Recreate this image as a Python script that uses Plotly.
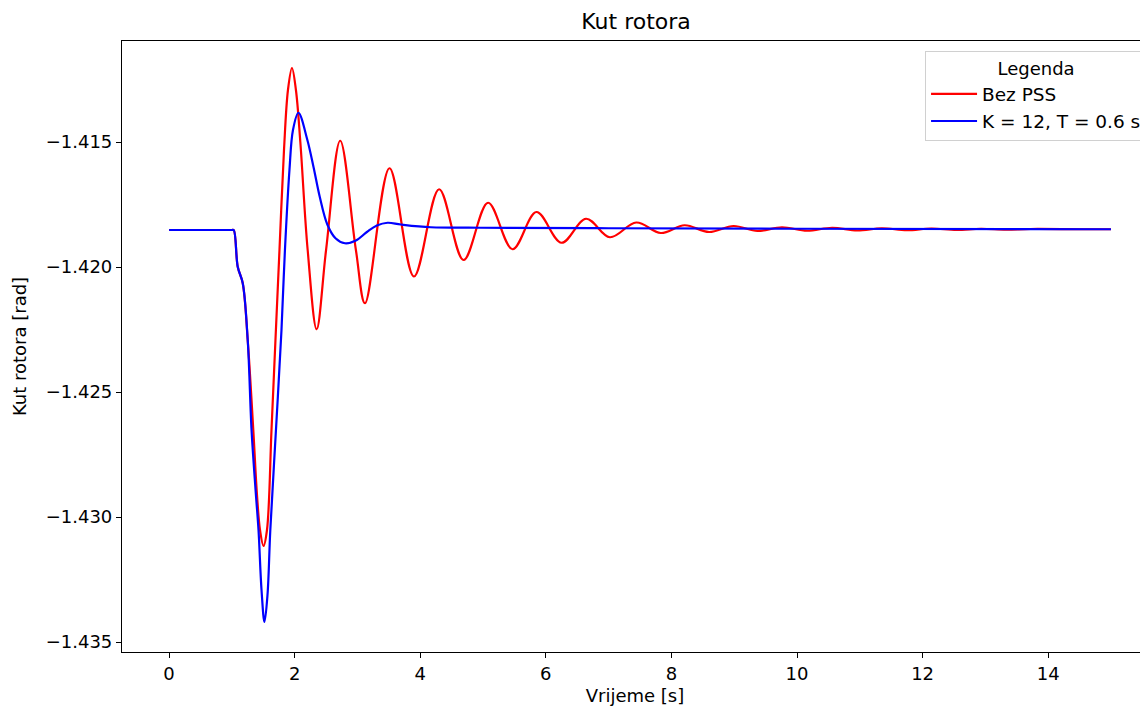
import plotly.graph_objects as go

# ---- data ----
t_bez_pss = [0.0, 0.5, 1.0, 1.029, 1.093, 1.173, 1.252, 1.341, 1.400, 1.448, 1.503,
             1.559, 1.631, 1.694, 1.758, 1.830, 1.893, 1.957, 2.020, 2.090, 2.207,
             2.350, 2.500, 2.725, 2.975, 3.120, 3.510, 3.900, 4.300, 4.690, 5.080,
             5.470, 5.850, 6.250, 6.640, 7.020, 7.440, 7.830, 8.210, 8.600, 8.990,
             9.370, 9.760, 10.160, 10.560, 10.960, 11.350, 11.750, 12.140, 12.540,
             12.930, 13.330, 13.720, 14.500, 15.000]
kut_bez_pss = [-1.41852, -1.41852, -1.41852, -1.41852, -1.41999, -1.42065, -1.42292,
               -1.42652, -1.42912, -1.43052, -1.43116, -1.43052, -1.42652, -1.42292,
               -1.41932, -1.41532, -1.41292, -1.41204, -1.41292, -1.41500, -1.41932,
               -1.42249, -1.41932, -1.41495, -1.41932, -1.42145, -1.41605, -1.42038,
               -1.41689, -1.41972, -1.41743, -1.41929, -1.41780, -1.41903, -1.41807,
               -1.41881, -1.41822, -1.41864, -1.41833, -1.41860, -1.41836, -1.41856,
               -1.41841, -1.41855, -1.41843, -1.41854, -1.41845, -1.41853, -1.41846,
               -1.41852, -1.41847, -1.41851, -1.41848, -1.41849, -1.41849]

t_pss = [0.0, 0.5, 1.0, 1.029, 1.093, 1.173, 1.252, 1.313, 1.377, 1.424, 1.472, 1.519,
         1.567, 1.612, 1.702, 1.790, 1.845, 1.917, 1.973, 2.060, 2.200, 2.300, 2.400,
         2.520, 2.650, 2.800, 2.975, 3.150, 3.309, 3.479, 3.691, 4.168, 4.964,
         7.0, 10.0, 15.0]
kut_pss = [-1.41852, -1.41852, -1.41852, -1.41852, -1.41999, -1.42065, -1.42292,
           -1.42652, -1.42892, -1.43052, -1.43292, -1.43420, -1.43312, -1.43052,
           -1.42652, -1.42252, -1.41932, -1.41612, -1.41452, -1.41383, -1.41490,
           -1.41600, -1.41720, -1.41830, -1.41885, -1.41905, -1.41894,
           -1.41860, -1.41834, -1.41823, -1.41830, -1.41841, -1.41843, -1.41845,
           -1.41847, -1.41849]

series_names = ["Bez PSS", "K = 12, T = 0.6 s"]
x_ticks = [0, 2, 4, 6, 8, 10, 12, 14]
y_ticks = [-1.415, -1.420, -1.425, -1.430, -1.435]
y_tick_labels = ["\u22121.415", "\u22121.420", "\u22121.425", "\u22121.430", "\u22121.435"]

FONT = "DejaVu Sans"
W, H = 1140, 703  # page has an 8px body margin

fig = go.Figure()
fig.add_trace(go.Scatter(x=t_bez_pss, y=kut_bez_pss, mode="lines", name=series_names[0],
                         line=dict(color="#ff0000", width=2.2, shape="spline", smoothing=1.0)))
fig.add_trace(go.Scatter(x=t_pss, y=kut_pss, mode="lines", name=series_names[1],
                         line=dict(color="#0000ff", width=2.2, shape="spline", smoothing=1.0)))

fig.update_layout(
    width=W, height=H,
    margin=dict(l=114, r=0, t=33, b=59, autoexpand=False),
    paper_bgcolor="white", plot_bgcolor="white",
    font=dict(family=FONT, size=18, color="black"),
    title=dict(text="Kut rotora", x=0.501, xref="paper", xanchor="center",
               y=1 - 13 / H, yref="container", yanchor="middle",
               font=dict(family=FONT, size=22, color="black")),
    xaxis=dict(range=[-0.75, 15.59], tickvals=x_ticks, ticks="outside", ticklen=5,
               tickcolor="black", showgrid=False, zeroline=False, showline=True,
               linecolor="black", linewidth=1.2, mirror=True,
               title=dict(text="Vrijeme [s]", standoff=6, font=dict(size=18)),
               tickfont=dict(size=18)),
    yaxis=dict(range=[-1.4354, -1.41096], tickvals=y_ticks, ticktext=y_tick_labels,
               ticks="outside", ticklen=5, tickcolor="black", showgrid=False,
               zeroline=False, showline=True, linecolor="black", linewidth=1.2,
               title=dict(text="Kut rotora [rad]", standoff=14, font=dict(size=18)),
               tickfont=dict(size=18)),
    legend=dict(x=0.7827, y=0.9836, xanchor="left", yanchor="top",
                bgcolor="rgba(255,255,255,0.85)", bordercolor="#d0d0d0", borderwidth=1,
                title=dict(text="Legenda", side="top center", font=dict(size=18)),
                font=dict(size=18.5), tracegroupgap=0, itemwidth=46),
    showlegend=True,
)

fig.write_html("out.html")
